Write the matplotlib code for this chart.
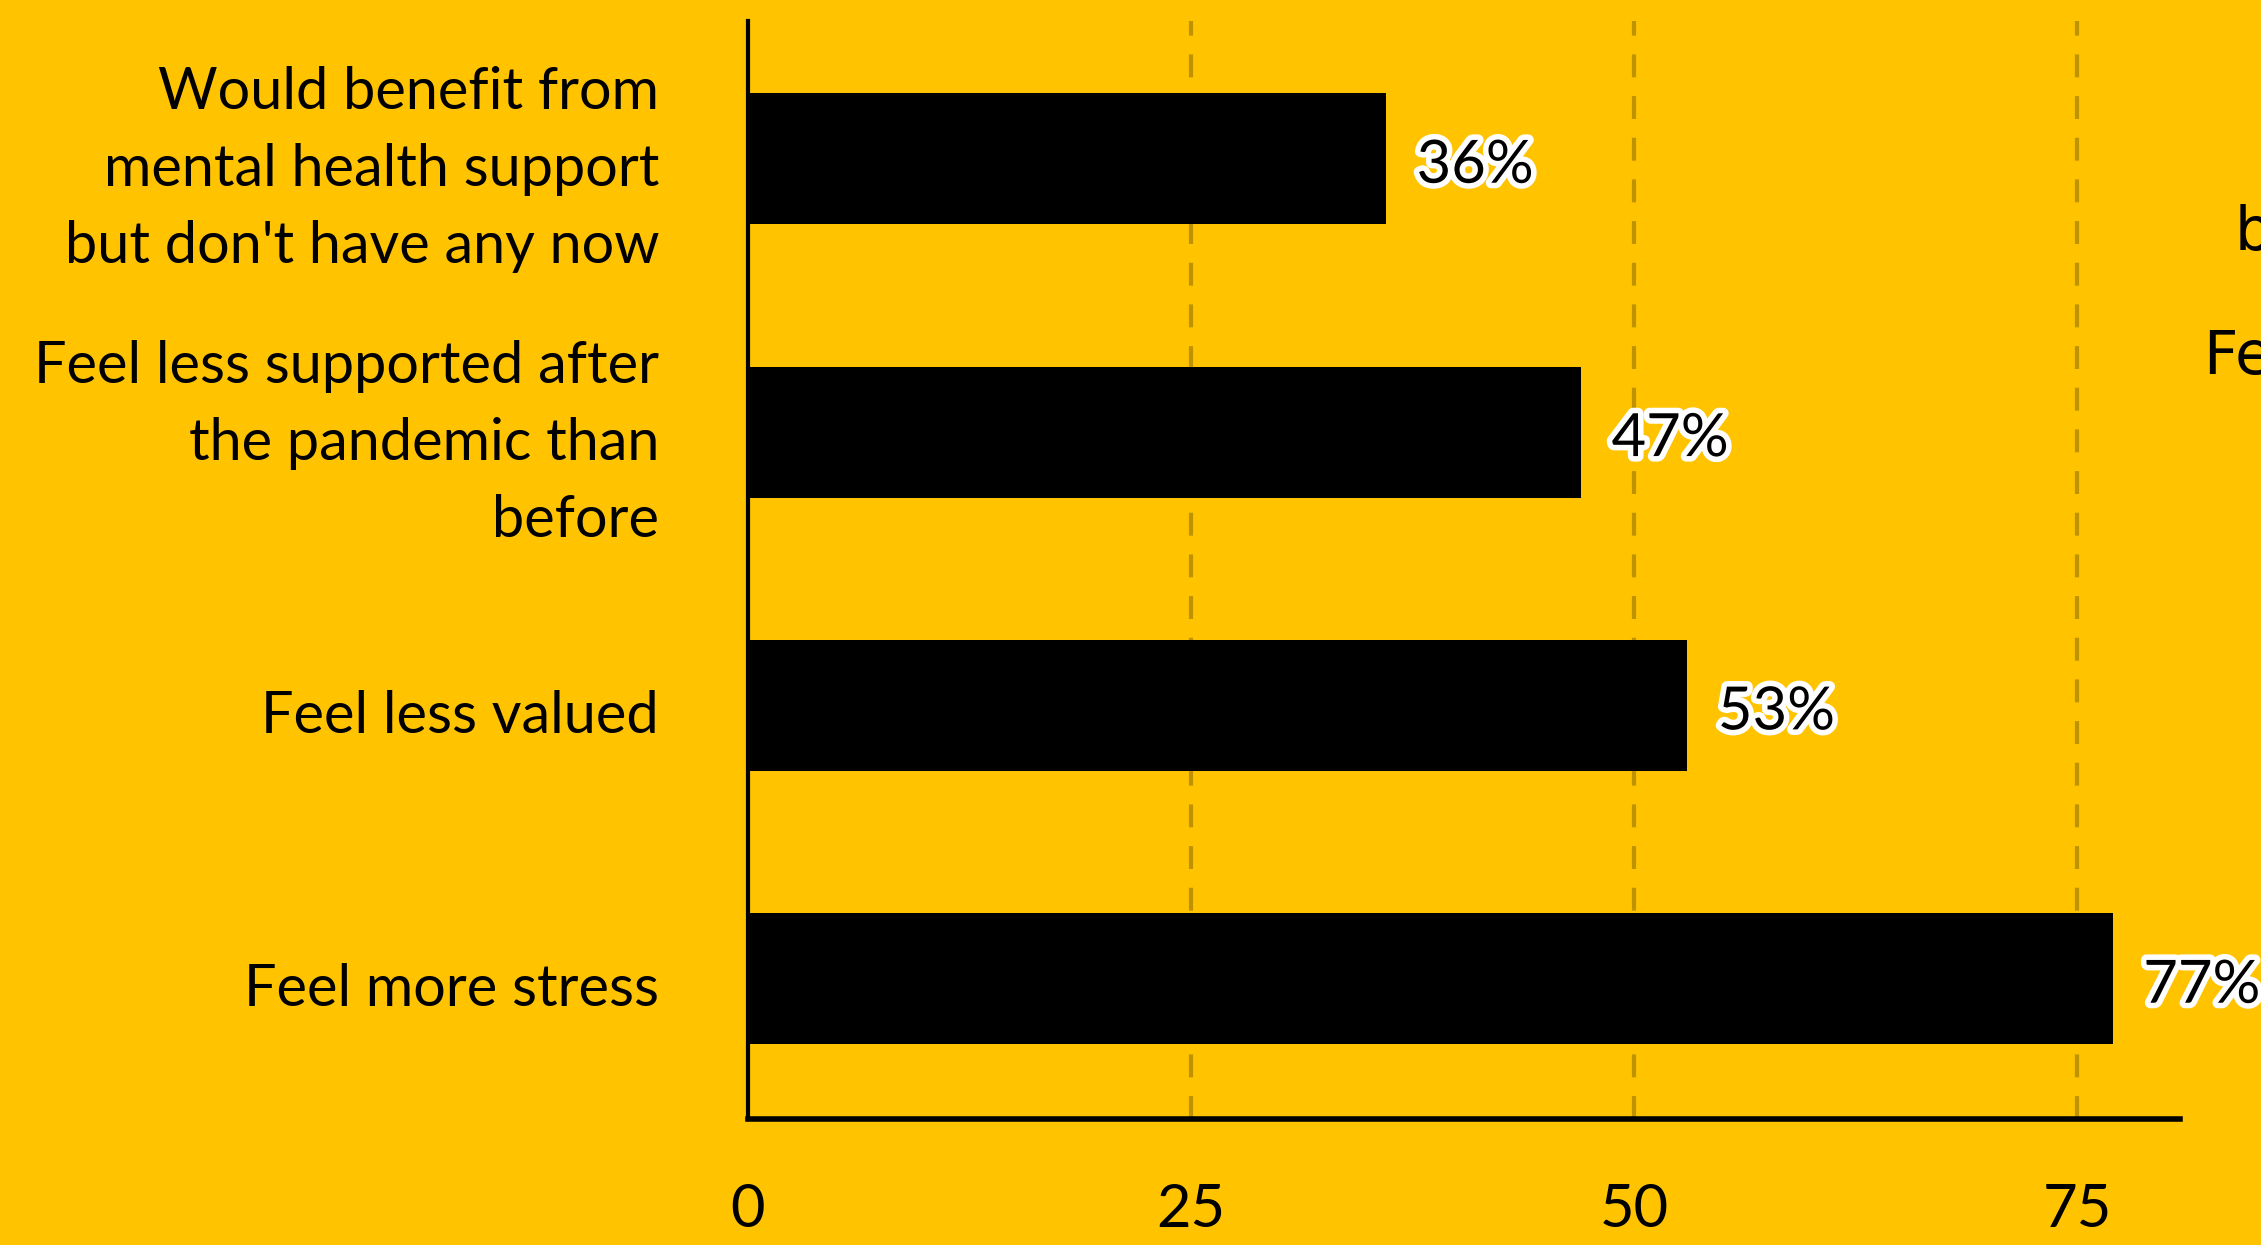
import matplotlib
matplotlib.use("Agg")
import matplotlib.pyplot as plt
import matplotlib.patheffects as pe
import matplotlib.transforms as mtransforms

categories = [
    "Would benefit from\nmental health support\nbut don't have any now",
    "Feel less supported after\nthe pandemic than\nbefore",
    "Feel less valued",
    "Feel more stress",
]
values = [36, 47, 53, 77]
value_labels = ["36%", "47%", "53%", "77%"]
xticks = [0, 25, 50, 75]
xtick_labels = ["0", "25", "50", "75"]

BG = "#FFC300"
GRID = "#BF9200"

fig = plt.figure(figsize=(22.61, 12.45), dpi=100, facecolor=BG)
ax = fig.add_axes([0.3308, 0.1012, 0.6334, 0.8819])
ax.set_facecolor(BG)

ypos = list(range(len(categories)))
ax.barh(ypos, values, height=0.48, color="black", zorder=3)

ax.set_xlim(0, 80.8)
ax.set_ylim(3.513, -0.504)

for x in xticks[1:]:
    ax.axvline(x, color=GRID, lw=3, dashes=(5.5, 4.5), zorder=1)

ax.set_xticks(xticks)
ax.set_xticklabels(xtick_labels, fontfamily="Lato", fontsize=43)
ax.tick_params(axis="x", length=0, pad=46, colors="black")

# category labels (drawn as text next to the y axis)
ax.set_yticks(ypos)
ax.set_yticklabels([""] * len(ypos))
ax.tick_params(axis="y", length=0)
ytrans = ax.get_yaxis_transform()
for y, lab in zip(ypos, categories):
    ax.annotate(lab, xy=(0, y), xycoords=ytrans, xytext=(-64, -8),
                textcoords="offset points", ha="right", va="center",
                multialignment="right", fontfamily="Lato", fontsize=41.5,
                linespacing=1.56, color="black", annotation_clip=False)

for s in ["top", "right"]:
    ax.spines[s].set_visible(False)
ax.spines["left"].set_linewidth(3)
ax.spines["bottom"].set_linewidth(4)

for y, v, lab in zip(ypos, values, value_labels):
    t = ax.annotate(lab, xy=(v, y), xytext=(22, -5), textcoords="offset points",
                    ha="left", va="center", fontfamily="Lato", fontsize=43,
                    color="black", zorder=4, annotation_clip=False)
    t.set_path_effects([pe.withStroke(linewidth=8, foreground="white")])

# clipped duplicate labels visible at the right edge in the reference
trans = mtransforms.blended_transform_factory(fig.transFigure, ax.transData)
for y, lab in zip(ypos, categories):
    ax.text(1.3013, y, lab, transform=trans, ha="right", va="center",
            multialignment="right", fontfamily="DejaVu Sans", fontsize=43,
            linespacing=1.34, color="black", clip_on=False)

fig.savefig("out.png", dpi=100, facecolor=BG)
